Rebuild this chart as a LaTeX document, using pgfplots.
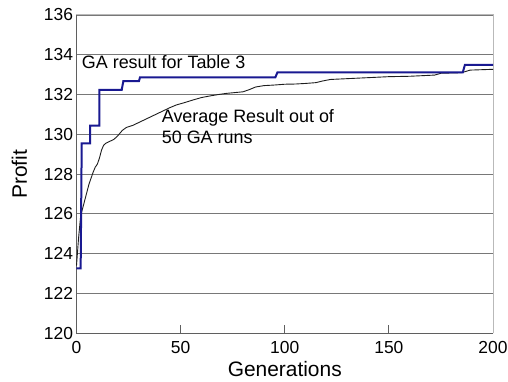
\documentclass[border=0pt]{standalone}
\usepackage{fontspec}
\setmainfont{Liberation Sans}
\usepackage{pgfplots}
\pgfplotsset{compat=1.18}
\definecolor{gablue}{RGB}{25,25,145}
\definecolor{avgline}{RGB}{30,30,30}
\definecolor{gridc}{RGB}{120,120,120}
\definecolor{boxc}{RGB}{185,185,185}
\definecolor{axc}{RGB}{95,95,95}
\begin{document}
\begin{tikzpicture}[x=1bp,y=1bp]
\path[use as bounding box] (-76.5bp,-48.7bp) rectangle (431.5bp,333.3bp);
\begin{axis}[
  scale only axis,
  width=416.5bp, height=318.3bp,
  xmin=0, xmax=200, ymin=120, ymax=136,
  axis lines=left,
  axis line style={-, draw=axc, line width=1bp},
  xtick={0,50,100,150,200},
  ytick={120,122,...,136},
  ymajorgrids,
  grid style={draw=gridc, line width=0.9bp},
  xtick style={draw=axc, line width=0.8bp},
  ytick style={draw=none},
  tick align=inside,
  major tick length=8bp,
  /pgf/number format/assume math mode=true,
  tick label style={font=\fontsize{17.5}{20}\selectfont},
  xticklabel style={yshift=-5bp},
  yticklabel style={xshift=0bp},
  xlabel={Generations}, ylabel={Profit},
  label style={font=\fontsize{21}{24}\selectfont},
  xlabel style={yshift=0bp},
  ylabel style={yshift=10bp},
  clip=false,
]
\draw[boxc, line width=1bp] (rel axis cs:0,1) -- (rel axis cs:1,1) -- (rel axis cs:1,0);
\addplot[avgline, line width=0.9bp] coordinates {
(0,123.4) (1,124.8) (2,125.9) (3,126.3) (4,126.7) (5,127.1) (6,127.5) (7,127.8)
(8,128.1) (9,128.35) (10,128.5) (11,128.8) (12,129.2) (13,129.45) (14,129.55)
(16,129.65) (18,129.75) (20,129.95) (22,130.2) (24,130.35) (27,130.45) (30,130.6)
(33,130.75) (36,130.9) (39,131.05) (42,131.2) (45,131.35) (48,131.48) (52,131.6)
(56,131.73) (60,131.85) (64,131.93) (68,132.0) (72,132.06) (76,132.1) (80,132.14)
(83,132.25) (86,132.38) (90,132.45) (95,132.48) (100,132.52) (105,132.53) (110,132.56)
(115,132.6) (118,132.68) (122,132.76) (130,132.8) (140,132.85) (150,132.9) (160,132.92)
(172,132.98) (175,133.07) (185,133.1) (189,133.23) (200,133.27)
};
\addplot[gablue, line width=2bp] coordinates {
(0,123.26) (2,123.26) (2.5,129.55) (6.5,129.55) (6.5,130.44) (11,130.44) (11,132.23)
(21.7,132.23) (22.5,132.68) (30,132.68) (30.5,132.87) (95.5,132.87) (96.5,133.12)
(185.5,133.12) (186.5,133.49) (200,133.49)
};
\node[anchor=west, inner sep=0pt, font=\fontsize{18}{20}\selectfont] at (axis cs:2.5,133.62) {GA result for Table 3};
\node[anchor=west, inner sep=0pt, font=\fontsize{18}{20}\selectfont] at (axis cs:40.9,130.81) {Average Result out of};
\node[anchor=west, inner sep=0pt, font=\fontsize{18}{20}\selectfont] at (axis cs:40.9,129.85) {50 GA runs};
\end{axis}
\end{tikzpicture}
\end{document}
